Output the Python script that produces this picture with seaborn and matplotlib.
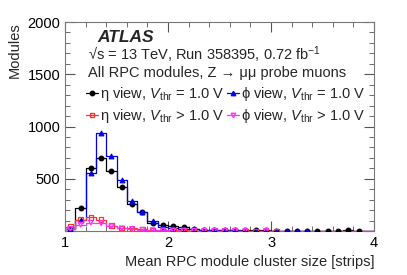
import numpy as np
import pandas as pd
import seaborn as sns
import matplotlib.pyplot as plt
from matplotlib.lines import Line2D
from matplotlib.ticker import MultipleLocator

# bin edges of the cluster-size histogram
edges = [round(1.0 + 0.1 * i, 2) for i in range(31)]
centers = [round(e + 0.05, 3) for e in edges[:-1]]

eta_eq = [20, 218, 600, 700, 570, 420, 260, 180, 75, 62, 45, 35, 19, 12, 10,
          8, 6, 5, 5, 5, 4, 3, 2, 3, 2, 1, 4, 5, 1, 0]
phi_eq = [18, 106, 555, 935, 714, 484, 290, 186, 100, 40, 28, 22, 15, 10, 8,
          6, 5, 4, 3, 3, 2, 2, 3, 1, 0, 0, 0, 0, 0, 0]
eta_gt = [42, 110, 130, 110, 50, 30, 25, 15, 10, 8, 6, 5, 4, 3, 2,
          2, 2, 1, 1, 1, 1, 0, 0, 0, 0, 0, 0, 0, 0, 0]
phi_gt = [20, 60, 80, 74, 45, 25, 20, 12, 8, 6, 5, 4, 3, 2, 2,
          1, 1, 1, 0, 1, 0, 0, 0, 0, 0, 0, 0, 0, 0, 0]

labels = [r"η view, $V_{\rm thr}$ = 1.0 V", r"ϕ view, $V_{\rm thr}$ = 1.0 V",
          r"η view, $V_{\rm thr}$ > 1.0 V", r"ϕ view, $V_{\rm thr}$ > 1.0 V"]
colors = ["black", "#0000ee", "#ff3333", "#ff33ff"]
markers = ["o", "^", "s", "v"]
filled = [True, True, False, False]
series = [eta_eq, phi_eq, eta_gt, phi_gt]

sns.set_style("ticks")
plt.rcParams["font.family"] = ["Liberation Sans", "DejaVu Sans"]
plt.rcParams["mathtext.fontset"] = "custom"
plt.rcParams["mathtext.rm"] = "Liberation Sans"
plt.rcParams["mathtext.it"] = "Liberation Sans:italic"

fig = plt.figure(figsize=(4.07, 2.75), dpi=100)
ax = fig.add_axes([0.16, 0.16, 0.759, 0.76])

for vals, col, mk, fl in zip(series, colors, markers, filled):
    df = pd.DataFrame({"x": centers, "n": vals})
    sns.histplot(data=df, x="x", weights="n", bins=edges, element="step",
                 fill=False, color=col, linewidth=0.9, ax=ax)
    pts = df[df["n"] > 0]
    sns.scatterplot(data=pts, x="x", y="n", marker=mk, s=11,
                    color=col if fl else "none", edgecolor=col,
                    linewidth=0.9, ax=ax, zorder=5)

ax.set_xlim(1, 4)
ax.set_ylim(0, 2000)
ax.xaxis.set_major_locator(MultipleLocator(1))
ax.xaxis.set_minor_locator(MultipleLocator(0.2))
ax.yaxis.set_minor_locator(MultipleLocator(100))
ax.tick_params(which="both", direction="in", top=True, right=True, labelsize=10.5,
               colors="#555555", labelcolor="black")
ax.tick_params(which="major", length=7)
ax.tick_params(which="minor", length=3.5)
ax.set_yticks([0, 500, 1000, 1500, 2000])
ax.set_yticklabels(["", "500", "1000", "1500", "2000"])
for s in ax.spines.values():
    s.set_color("#777777")

ax.set_xlabel("Mean RPC module cluster size [strips]", fontsize=10.5, loc="right")
ax.set_ylabel("Modules", fontsize=10.5, loc="top")

ax.text(0.104, 0.925, "ATLAS", transform=ax.transAxes, fontsize=12.5,
        fontweight="bold", fontstyle="italic", va="center")
ax.text(0.074, 0.842, r"√s = 13 TeV, Run 358395, 0.72 fb$^{-1}$",
        transform=ax.transAxes, fontsize=10.5, va="center")
ax.text(0.074, 0.756, "All RPC modules, Z → μμ probe muons",
        transform=ax.transAxes, fontsize=10.5, va="center")

handles = [Line2D([], [], color=c, marker=m, markersize=3.2, lw=0.9,
                  markerfacecolor=c if f else "none")
           for c, m, f in zip(colors, markers, filled)]
order = [0, 2, 1, 3]
ax.legend([handles[i] for i in order], [labels[i] for i in order], ncol=2,
          loc="upper left", bbox_to_anchor=(0.05, 0.725), frameon=False,
          fontsize=10.5, handlelength=0.8, handletextpad=0.15, columnspacing=0.15,
          labelspacing=0.25, borderaxespad=0)

fig.savefig("out.png", dpi=100)
